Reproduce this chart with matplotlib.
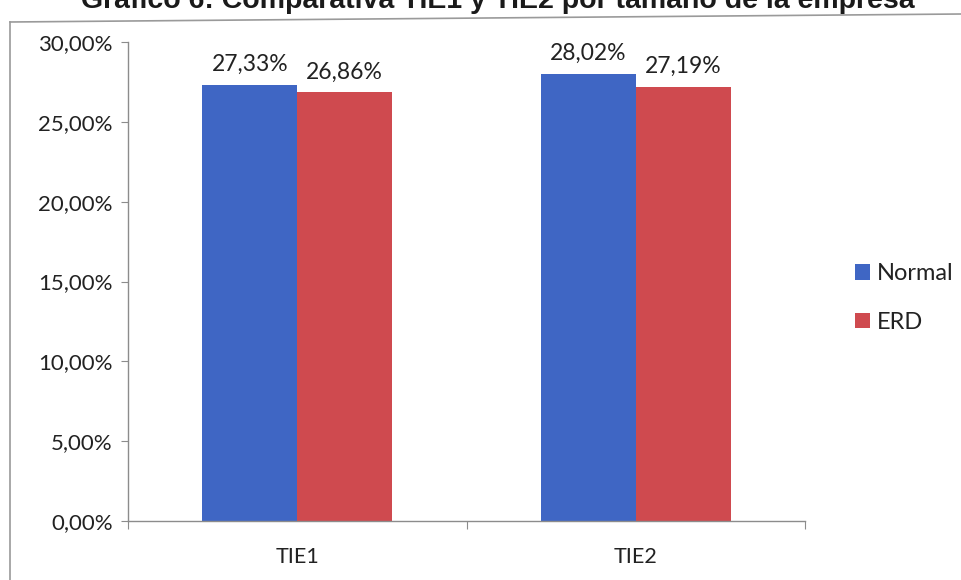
import matplotlib
matplotlib.use("Agg")
import matplotlib.pyplot as plt
from matplotlib.lines import Line2D
import numpy as np

# Data
categories = ["TIE1", "TIE2"]
series_names = ["Normal", "ERD"]
normal_values = [27.33, 28.02]
erd_values = [26.86, 27.19]
y_ticks = [0, 5, 10, 15, 20, 25, 30]

title_text = "Gráfico 6: Comparativa TIE1 y TIE2 por tamaño de la empresa"

blue = "#3F66C4"
red = "#CF4A4F"
axis_gray = "#8C8C8C"
text_color = "#222222"
font = ["Lato", "DejaVu Sans"]


def pct(v):
    return f"{v:.2f}".replace(".", ",") + "%"


W, H = 961, 580
fig = plt.figure(figsize=(W / 100, H / 100), dpi=100)
fig.patch.set_facecolor("white")

# Chart frame (scanned page border)
fig.add_artist(Line2D([10 / W, 1.0], [1 - 22 / H, 1 - 14 / H], color="#9A9A9A", lw=1.2,
                      transform=fig.transFigure))
fig.add_artist(Line2D([10 / W, 10 / W], [1 - 22 / H, 0], color="#9A9A9A", lw=1.2,
                      transform=fig.transFigure))

# Title, clipped at the top edge of the page
fig.text(0.5 * (80 + 915) / W, 1 - 8 / H, title_text, ha="center", va="baseline",
         fontsize=20.5, fontweight="bold", family=["Liberation Sans", "DejaVu Sans"],
         color="#1A1A1A")

ax = fig.add_axes([128 / W, 1 - 521 / H, (805 - 128) / W, (521 - 42) / H])

x = np.arange(len(categories))
bw = 0.28
b1 = ax.bar(x - bw / 2, normal_values, bw, color=blue, label=series_names[0], zorder=2)
b2 = ax.bar(x + bw / 2, erd_values, bw, color=red, label=series_names[1], zorder=2)

for bars, vals in ((b1, normal_values), (b2, erd_values)):
    for rect, v in zip(bars, vals):
        ax.annotate(pct(v), (rect.get_x() + rect.get_width() / 2, v),
                    xytext=(0, 7), textcoords="offset points", ha="center", va="bottom",
                    fontsize=16.5, family=font, color=text_color)

ax.set_xlim(-0.5, len(categories) - 0.5)
ax.set_ylim(0, 30)
ax.set_yticks(y_ticks)
ax.set_yticklabels([pct(v) for v in y_ticks], family=font, fontsize=16, color=text_color)

# Category boundaries get the tick marks, category centres get the labels
ax.set_xticks(np.arange(len(categories) + 1) - 0.5)
ax.set_xticklabels([])
ax.set_xticks(x, minor=True)
ax.set_xticklabels(categories, minor=True, family=font, fontsize=15.5, color=text_color)
ax.tick_params(axis="x", which="major", length=6, color=axis_gray, direction="out")
ax.tick_params(axis="x", which="minor", length=0, pad=19)
ax.tick_params(axis="y", length=5, color=axis_gray, direction="out", pad=6)

for side in ("top", "right"):
    ax.spines[side].set_visible(False)
for side in ("left", "bottom"):
    ax.spines[side].set_color(axis_gray)
    ax.spines[side].set_linewidth(1.0)

leg = fig.legend(handles=[b1, b2], labels=series_names, loc="center left",
                 bbox_to_anchor=(834 / W, 1 - 298 / H), frameon=False,
                 prop={"family": font, "size": 17}, handlelength=0.62, handleheight=0.62,
                 handletextpad=0.3, labelspacing=1.15)
for t in leg.get_texts():
    t.set_color(text_color)

fig.savefig("out.png", dpi=100, facecolor="white")
